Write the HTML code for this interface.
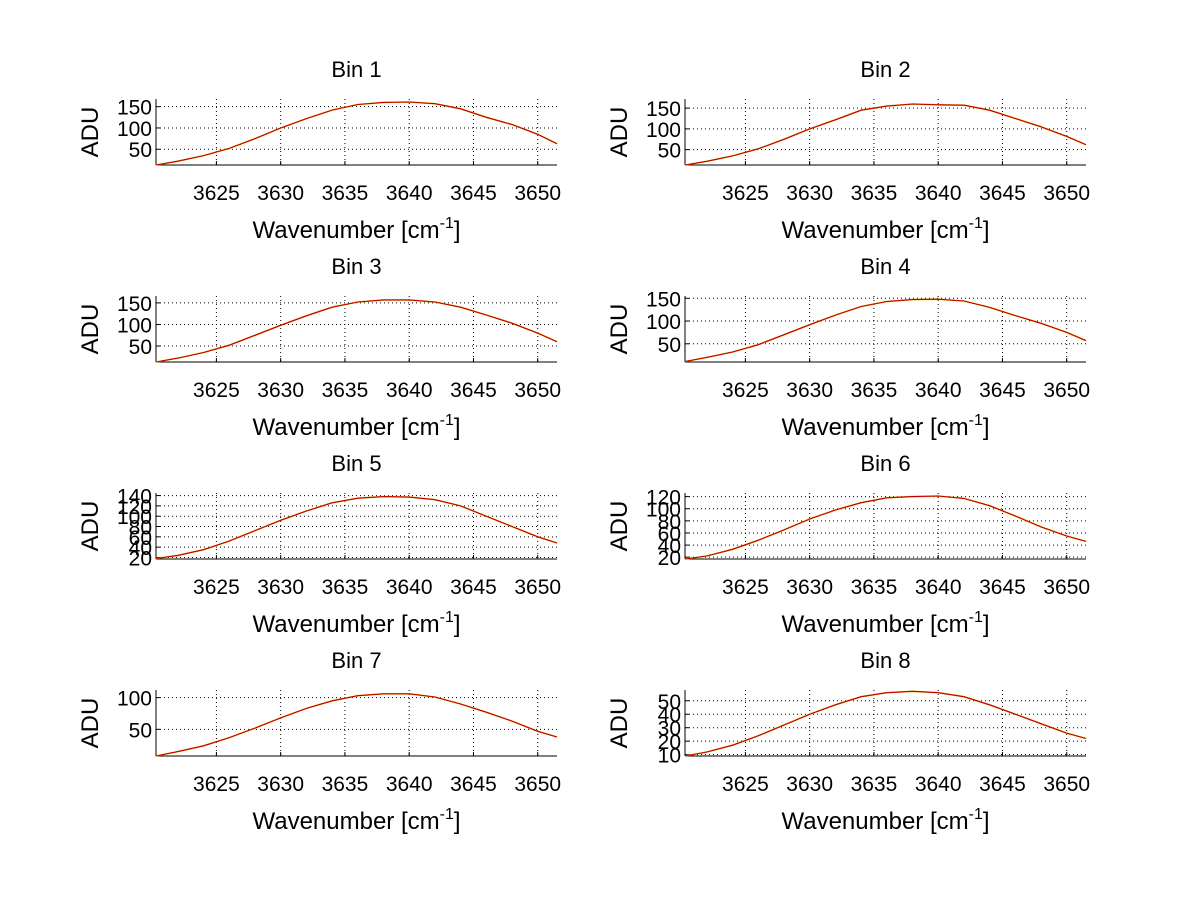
<!DOCTYPE html>
<html><head><meta charset="utf-8"><style>
body{margin:0;background:#fff}
svg{display:block;font-family:"Liberation Sans",sans-serif}
</style></head><body>
<svg id="fig" width="1200" height="901" viewBox="0 0 1200 901"></svg>
<script>
const wavenumbers=[3620.3,3622,3624,3626,3628,3630,3632,3634,3636,3638,3640,3642,3644,3646,3648,3650,3651.5];
const bin1=[13,22,35,52,75,100,122,142,155,160,161,157,145,125,108,85,63];
const bin2=[13,22,35,52,75,100,122,145,155,160,158,157,145,125,105,82,62];
const bin3=[13,22,35,52,75,98,120,140,152,157,157,152,140,122,103,80,60];
const bin4=[11,20,32,48,70,92,113,132,143,147,148,144,130,112,95,75,57];
const bin5=[18,24,35,52,72,92,110,126,135,138,137,132,120,100,80,60,48];
const bin6=[17,22,33,48,65,83,98,110,118,120,121,117,105,88,70,55,46];
const bin7=[8,15,24,37,52,68,83,95,103,106,106,101,90,77,63,47,38];
const bin8=[9,12,17,24,32,40,47,53,56,57,56,53,47,40,33,26,22];
const xTicks=[3625,3630,3635,3640,3645,3650];
const yTicks1=[50,100,150],yTicks2=[50,100,150],yTicks3=[50,100,150],yTicks4=[50,100,150];
const yTicks5=[20,40,60,80,100,120,140],yTicks6=[20,40,60,80,100,120],yTicks7=[50,100],yTicks8=[10,20,30,40,50];
const yRanges=[[13,168],[13,172],[13,166],[10,155],[17,145],[17,126],[8,112],[9,58]];
const series=[bin1,bin2,bin3,bin4,bin5,bin6,bin7,bin8];
const yTickSets=[yTicks1,yTicks2,yTicks3,yTicks4,yTicks5,yTicks6,yTicks7,yTicks8];
const NS="http://www.w3.org/2000/svg";
const svg=document.getElementById('fig');
function mk(t,a,p){const e=document.createElementNS(NS,t);for(const k in a)e.setAttribute(k,a[k]);(p||svg).appendChild(e);return e;}
const xmin=3620.3,xmax=3651.5;
for(let i=0;i<8;i++){
  const col=i%2,row=Math.floor(i/2);
  const L=col?685:156,R=col?1086:557,T=99+row*197,B=165+row*197;
  const [y0,y1]=yRanges[i];
  const X=v=>L+(v-xmin)/(xmax-xmin)*(R-L);
  const Y=v=>B-(v-y0)/(y1-y0)*(B-T);
  const g=mk('g',{});
  
  
  xTicks.forEach(t=>{
    const l=mk('line',{x1:X(t),x2:X(t),y1:T,y2:B,stroke:'#000','stroke-width':1,'stroke-dasharray':'1,3'},g);
    
    mk('line',{x1:X(t),x2:X(t),y1:B,y2:B-4,stroke:'#000'},g);
    const tx=mk('text',{x:X(t),y:B+35,'font-size':21,'text-anchor':'middle'},g);
    
    tx.textContent=t;
  });
  yTickSets[i].forEach(t=>{
    const l=mk('line',{x1:L,x2:R,y1:Y(t),y2:Y(t),stroke:'#000','stroke-width':1,'stroke-dasharray':'1,3'},g);
    
    mk('line',{x1:L,x2:L+4,y1:Y(t),y2:Y(t),stroke:'#000'},g);
    const tx=mk('text',{x:L-4,y:Y(t)+8,'font-size':21,'text-anchor':'end'},g);
    
    tx.textContent=t;
  });
  mk('line',{x1:L,x2:R,y1:B,y2:B,stroke:'#000'},g);
  mk('line',{x1:L,x2:L,y1:T,y2:B,stroke:'#000'},g);
  const d=series[i];
  const pts=wavenumbers.map((w,k)=>X(w).toFixed(1)+','+Y(d[k]).toFixed(1)).join(' ');
  const pb=mk('polyline',{points:pts,fill:'none',stroke:'#e8b800','stroke-width':1.6},g);
  
  const pl=mk('polyline',{points:pts,fill:'none',stroke:'#c00000','stroke-width':1.1},g);
  
  const ti=mk('text',{x:(L+R)/2,y:T-22,'font-size':22,'text-anchor':'middle'},g);
  
  ti.textContent='Bin '+(i+1);
  const yl=mk('text',{x:0,y:0,'font-size':24,'text-anchor':'middle',transform:`translate(${L-58},${(T+B)/2}) rotate(-90)`},g);
  
  yl.textContent='ADU';
  const xl=mk('text',{x:(L+R)/2,y:B+73,'font-size':24,'text-anchor':'middle'},g);
  
  xl.innerHTML='Wavenumber [cm<tspan dy="-10" font-size="16">-1</tspan><tspan dy="10">]</tspan>';
}
</script>
</body></html>
